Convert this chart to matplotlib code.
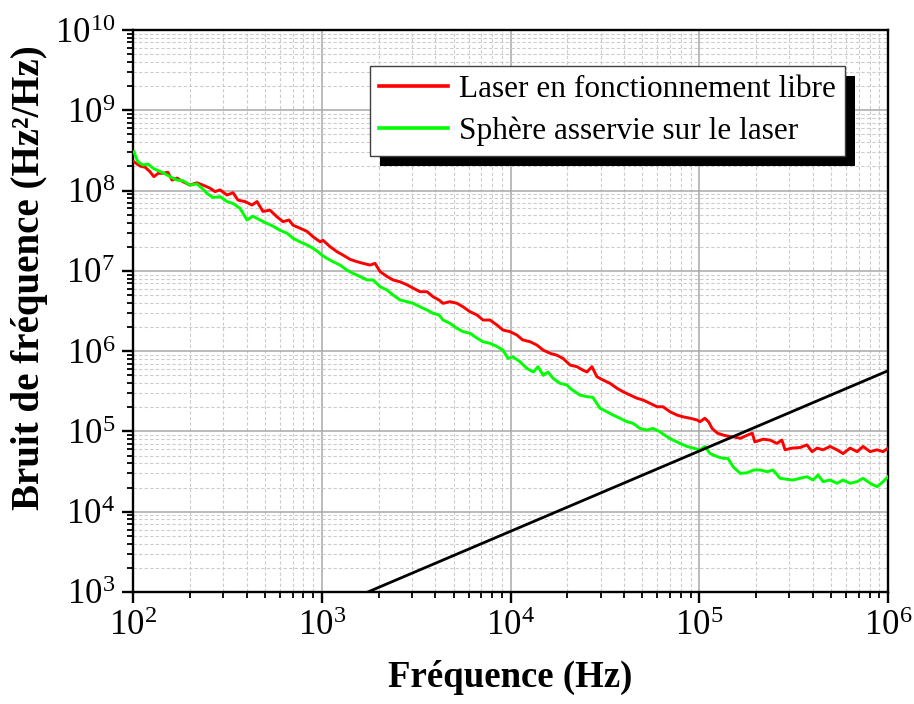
import matplotlib
matplotlib.use("Agg")
import matplotlib.pyplot as plt
from matplotlib.patches import Rectangle
from matplotlib.ticker import LogLocator, NullFormatter
import numpy as np

plt.rcParams['font.family'] = ['Liberation Serif', 'DejaVu Serif']
plt.rcParams['mathtext.fontset'] = 'stix'

# ---- data ----
red_f = [101, 109, 116, 123, 129, 136, 144, 153, 161, 171,
         184, 200, 218, 235, 256, 272, 289, 315, 339, 360,
         392, 427, 454, 488, 532, 580, 623, 671, 705, 767,
         836, 899, 980, 1016, 1107, 1205, 1297, 1413, 1539, 1656,
         1803, 1915, 2036, 2218, 2387, 2600, 2831, 3044, 3316, 3612,
         3888, 4183, 4390, 4780, 5210, 5600, 6100, 6650, 7150, 7790,
         8490, 9120, 9940, 1.08e4, 1.16e4, 1.27e4, 1.38e4, 1.49e4, 1.62e4, 1.76e4,
         1.90e4, 2.07e4, 2.25e4, 2.42e4, 2.54e4, 2.70e4, 2.87e4, 3.09e4, 3.37e4, 3.67e4,
         3.94e4, 4.30e4, 4.68e4, 5.04e4, 5.48e4, 5.97e4, 6.42e4, 7.00e4, 7.62e4, 8.20e4,
         8.93e4, 9.73e4, 1.01e5, 1.07e5, 1.12e5, 1.17e5, 1.25e5, 1.34e5, 1.46e5, 1.51e5,
         1.65e5, 1.80e5, 1.91e5, 1.97e5, 2.18e5, 2.37e5, 2.58e5, 2.74e5, 2.85e5, 3.10e5,
         3.42e5, 3.72e5, 3.96e5, 4.21e5, 4.53e5, 4.93e5, 5.37e5, 5.78e5, 6.30e5, 6.86e5,
         7.38e5, 8.04e5, 8.75e5, 9.42e5, 1.0e6]
red_v = [2.29e8, 2.02e8, 1.95e8, 1.72e8, 1.49e8, 1.64e8, 1.64e8, 1.69e8, 1.35e8, 1.43e8,
         1.29e8, 1.17e8, 1.25e8, 1.17e8, 1.07e8, 9.7e7, 1.02e8, 8.8e7, 9.4e7, 7.6e7,
         7.3e7, 6.6e7, 7.3e7, 5.5e7, 5.7e7, 4.7e7, 4.1e7, 4.3e7, 3.7e7, 3.4e7,
         3.1e7, 2.66e7, 2.3e7, 2.4e7, 2.0e7, 1.73e7, 1.57e7, 1.39e7, 1.30e7, 1.24e7,
         1.18e7, 1.24e7, 9.8e6, 8.5e6, 7.7e6, 7.3e6, 6.7e6, 6.1e6, 5.5e6, 5.5e6,
         4.76e6, 4.33e6, 3.94e6, 4.13e6, 3.94e6, 3.57e6, 3.10e6, 2.82e6, 2.44e6, 2.44e6,
         2.11e6, 1.83e6, 1.75e6, 1.59e6, 1.38e6, 1.31e6, 1.19e6, 1.03e6, 9.4e5, 8.9e5,
         8.1e5, 6.7e5, 6.4e5, 5.8e5, 5.5e5, 6.4e5, 4.8e5, 4.37e5, 3.97e5, 3.44e5,
         3.13e5, 2.84e5, 2.59e5, 2.46e5, 2.24e5, 2.03e5, 2.03e5, 1.76e5, 1.60e5, 1.52e5,
         1.46e5, 1.39e5, 1.32e5, 1.46e5, 1.32e5, 1.09e5, 9.5e4, 9.0e4, 8.6e4, 8.6e4,
         8.2e4, 9.0e4, 9.5e4, 7.4e4, 8.0e4, 7.8e4, 7.1e4, 7.8e4, 5.9e4, 6.2e4,
         6.3e4, 6.8e4, 5.6e4, 6.2e4, 5.9e4, 6.5e4, 5.9e4, 5.3e4, 6.2e4, 5.6e4,
         6.5e4, 5.6e4, 5.9e4, 5.6e4, 6.2e4]

green_f = [101, 106, 113, 120, 128, 136, 144, 157, 171, 184,
           200, 218, 232, 247, 265, 289, 315, 339, 369, 402,
           432, 471, 513, 552, 601, 655, 705, 767, 836, 899,
           955, 1003, 1066, 1148, 1250, 1361, 1465, 1596, 1738, 1871,
           2036, 2218, 2387, 2600, 2831, 3044, 3316, 3612, 3888, 4183,
           4390, 4780, 5210, 5600, 6100, 6650, 7150, 7790, 8490, 9120,
           9700, 1.03e4, 1.12e4, 1.22e4, 1.32e4, 1.40e4, 1.49e4, 1.58e4, 1.68e4, 1.83e4,
           1.99e4, 2.07e4, 2.33e4, 2.54e4, 2.73e4, 2.98e4, 3.24e4, 3.49e4, 3.80e4, 4.14e4,
           4.46e4, 4.85e4, 5.28e4, 5.69e4, 6.19e4, 6.74e4, 7.26e4, 7.91e4, 8.61e4, 9.27e4,
           1.01e5, 1.07e5, 1.14e5, 1.25e5, 1.34e5, 1.42e5, 1.51e5, 1.65e5, 1.80e5, 1.94e5,
           2.10e5, 2.29e5, 2.46e5, 2.68e5, 2.92e5, 3.14e5, 3.42e5, 3.72e5, 4.01e5, 4.26e5,
           4.53e5, 4.93e5, 5.37e5, 5.78e5, 6.30e5, 6.86e5, 7.38e5, 8.04e5, 8.75e5, 9.42e5,
           1.0e6]
green_v = [3.05e8, 2.29e8, 2.08e8, 2.14e8, 1.89e8, 1.77e8, 1.67e8, 1.49e8, 1.35e8, 1.33e8,
           1.17e8, 1.21e8, 1.07e8, 9.2e7, 8.2e7, 8.4e7, 7.3e7, 6.9e7, 6.0e7, 4.3e7,
           4.8e7, 4.3e7, 3.9e7, 3.6e7, 3.2e7, 2.94e7, 2.54e7, 2.3e7, 2.10e7, 1.91e7,
           1.73e7, 1.57e7, 1.43e7, 1.30e7, 1.18e7, 1.02e7, 9.3e6, 8.5e6, 7.7e6, 7.7e6,
           6.35e6, 5.77e6, 5.0e6, 4.33e6, 4.13e6, 3.94e6, 3.57e6, 3.25e6, 2.96e6, 2.82e6,
           2.44e6, 2.22e6, 1.92e6, 1.75e6, 1.67e6, 1.45e6, 1.31e6, 1.25e6, 1.14e6, 1.03e6,
           8.1e5, 8.5e5, 7.4e5, 6.1e5, 5.5e5, 6.4e5, 5.0e5, 5.5e5, 4.59e5, 3.97e5,
           3.79e5, 3.44e5, 2.84e5, 2.71e5, 2.66e5, 1.94e5, 1.76e5, 1.60e5, 1.46e5, 1.32e5,
           1.26e5, 1.09e5, 1.04e5, 1.09e5, 9.9e4, 8.6e4, 7.8e4, 7.1e4, 6.5e4, 6.2e4,
           5.9e4, 6.5e4, 5.3e4, 4.84e4, 4.62e4, 4.62e4, 3.64e4, 3.0e4, 3.06e4, 3.31e4,
           3.31e4, 3.15e4, 3.31e4, 2.61e4, 2.53e4, 2.48e4, 2.61e4, 2.73e4, 2.48e4, 2.87e4,
           2.37e4, 2.48e4, 2.26e4, 2.48e4, 2.26e4, 2.37e4, 2.61e4, 2.26e4, 2.05e4, 2.37e4,
           2.73e4]

line_f = [1.0e2, 1.0e6]
line_v = [57.0, 5.7e5]

labels = ["Laser en fonctionnement libre", "Sphère asservie sur le laser"]

# ---- figure ----
fig = plt.figure(figsize=(9.14, 7.04), dpi=100)
ax = fig.add_axes([133/914, 1-592/704, (888-133)/914, (592-30)/704])

ax.plot(red_f, red_v, color='#ff0000', lw=2.1, label=labels[0], zorder=3)
ax.plot(green_f, green_v, color='#00ff00', lw=2.1, label=labels[1], zorder=3)
ax.plot(line_f, line_v, color='black', lw=2.0, zorder=3)

ax.set_xscale('log')
ax.set_yscale('log')
ax.set_xlim(1e2, 1e6)
ax.set_ylim(1e3, 1e10)

ax.xaxis.set_major_locator(LogLocator(base=10, numticks=20))
ax.yaxis.set_major_locator(LogLocator(base=10, numticks=20))
ax.xaxis.set_minor_locator(LogLocator(base=10, subs=np.arange(2, 10), numticks=50))
ax.yaxis.set_minor_locator(LogLocator(base=10, subs=np.arange(2, 10), numticks=50))
ax.xaxis.set_minor_formatter(NullFormatter())
ax.yaxis.set_minor_formatter(NullFormatter())

ax.grid(True, which='major', color='#a8a8a8', lw=1.1, ls='-', zorder=0)
ax.grid(True, which='minor', color='#cccccc', lw=0.8, ls=(0, (3, 2)), zorder=0)
ax.set_axisbelow(True)

for s in ax.spines.values():
    s.set_linewidth(1.7)
    s.set_color('black')

ax.tick_params(which='major', direction='out', length=8, width=1.7, labelsize=25,
               top=False, right=False, pad=5)
ax.tick_params(which='minor', direction='out', length=4.5, width=1.3,
               top=False, right=False)

ax.set_xlabel("Fréquence (Hz)", fontsize=26.5, fontweight='bold', labelpad=12)
ax.set_ylabel("Bruit de fréquence (Hz²/Hz)", fontsize=28, fontweight='bold')
ax.yaxis.set_label_coords(-0.112, 0.56)

leg = ax.legend(loc='upper left', bbox_to_anchor=((370-133)/755, (592-66)/562),
                fontsize=22.5, frameon=True, fancybox=False, shadow=False,
                handlelength=2.2, handletextpad=0.35, borderpad=0.3,
                labelspacing=0.4, borderaxespad=0.0)
leg.get_frame().set_edgecolor('#404040')
leg.get_frame().set_linewidth(1.0)
leg.get_frame().set_alpha(1)
leg.set_zorder(10)
for h in leg.get_lines():
    h.set_linewidth(2.6)

fig.canvas.draw()
bb = leg.get_frame().get_window_extent(fig.canvas.get_renderer())
shadow = Rectangle((bb.x0 + 10, bb.y0 - 10), bb.width, bb.height, transform=None,
                   facecolor='black', edgecolor='none', zorder=9, clip_on=False)
ax.add_artist(shadow)

fig.savefig("out.png", dpi=100)
